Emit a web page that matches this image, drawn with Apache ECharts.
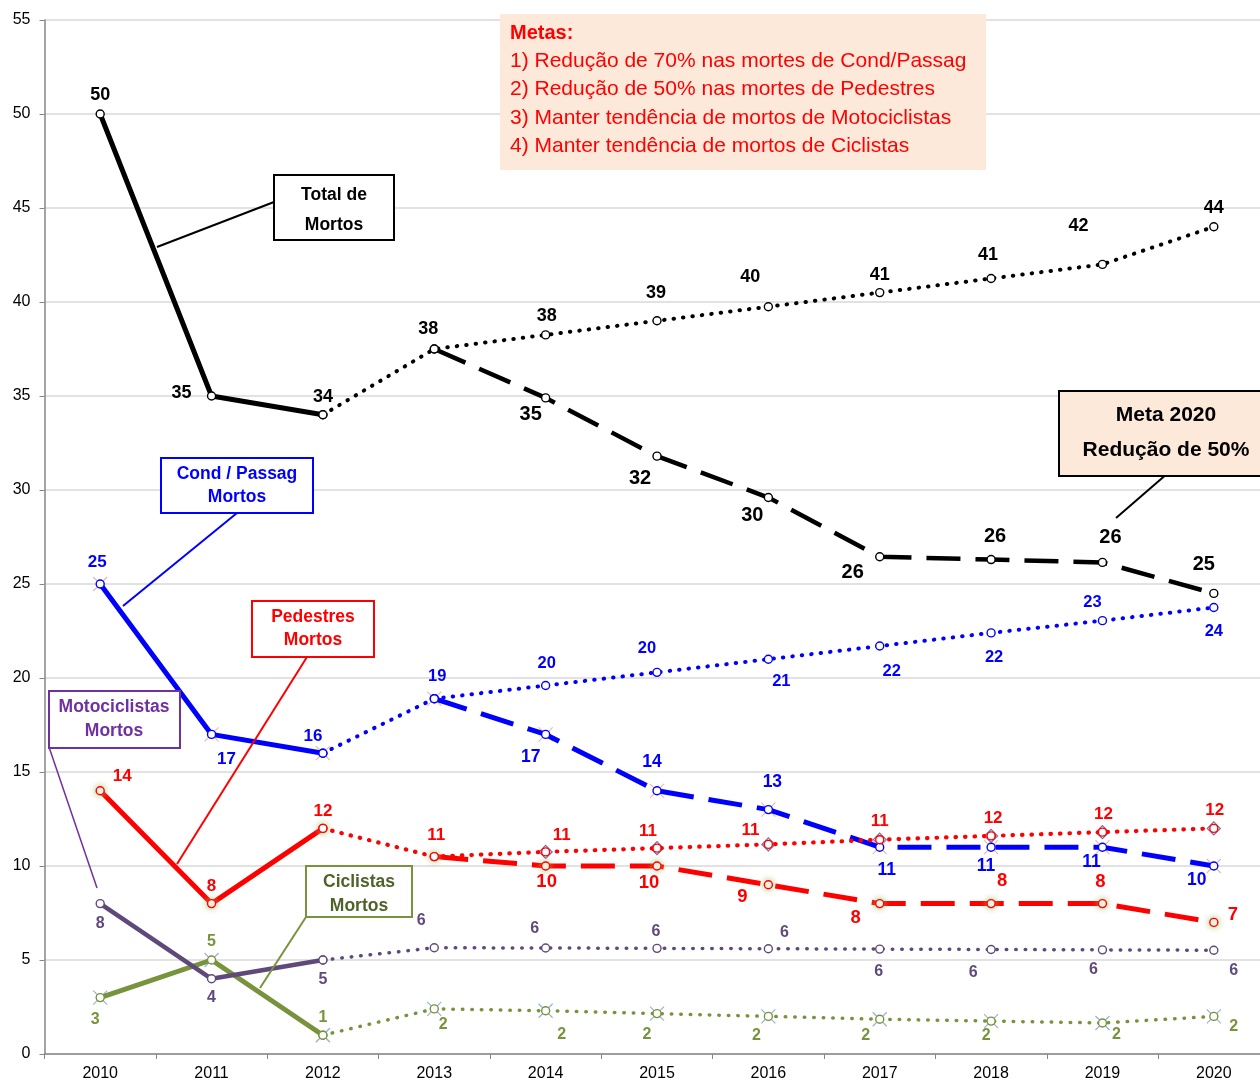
<!DOCTYPE html>
<html>
<head>
<meta charset="utf-8">
<script src="https://cdn.jsdelivr.net/npm/echarts@6/dist/echarts.min.js"></script>
<style>html,body{margin:0;padding:0;background:#fff;overflow:hidden;}#chart{width:1260px;height:1082px;}</style>
</head>
<body>
<div id="chart"></div>
<script>
// ---------- DATA ----------
const years = ['2010','2011','2012','2013','2014','2015','2016','2017','2018','2019','2020'];
const yTicks = [0, 55, 5]; // min, max, interval

const totalActual = [50, 35, 34, null, null, null, null, null, null, null, null];
const totalTrend  = [null, null, 34, 37.5, 38.25, 39, 39.75, 40.5, 41.25, 42, 44];
const totalMeta   = [null, null, null, 37.5, 34.9, 31.8, 29.6, 26.45, 26.3, 26.15, 24.5];

const condActual = [25, 17, 16, null, null, null, null, null, null, null, null];
const condTrend  = [null, null, 16, 18.9, 19.6, 20.3, 21, 21.7, 22.4, 23.05, 23.75];
const condMeta   = [null, null, null, 18.9, 17, 14, 13, 11, 11, 11, 10];

const pedActual = [14, 8, 12, null, null, null, null, null, null, null, null];
const pedTrend  = [null, null, 12, 10.5, 10.75, 10.95, 11.15, 11.4, 11.6, 11.8, 12];
const pedMeta   = [null, null, null, 10.5, 10, 10, 9, 8, 8, 8, 7];

const motoActual = [8, 4, 5, null, null, null, null, null, null, null, null];
const motoTrend  = [null, null, 5, 5.65, 5.64, 5.62, 5.6, 5.58, 5.56, 5.54, 5.52];

const cicActual = [3, 5, 1, null, null, null, null, null, null, null, null];
const cicTrend  = [null, null, 1, 2.4, 2.3, 2.15, 2, 1.85, 1.75, 1.65, 2];

// ---------- LABEL OFFSETS (layout only) ----------
const N = null;
const offTotalActual = [[0,-19],[-30,-3],[0,-18],N,N,N,N,N,N,N,N];
const offTotalTrend  = [N,N,N,[-6,-20],[1,-19],[-1,-28],[-18,-30],[0,-18],[-3,-23],[-24,-38],[0,-19]];
const offTotalMeta   = [N,N,N,N,[-15,17],[-17,22],[-16,18],[-27,16],[4,-23],[8,-25],[-10,-29]];
const offCondActual  = [[-3,-22],[15,25],[-10,-17],N,N,N,N,N,N,N,N];
const offCondTrend   = [N,N,N,[3,-22],[1,-22],[-10,-24],[13,22],[12,25],[3,25],[-10,-18],[0,24]];
const offCondMeta    = [N,N,N,N,[-15,23],[-5,-29],[4,-27],[7,23],[-5,19],[-11,15],[-17,14]];
const offPedActual   = [[22,-14],[0,-17],[0,-17],N,N,N,N,N,N,N,N];
const offPedTrend    = [N,N,N,[2,-21],[16,-17],[-9,-17],[-18,-14],[0,-18],[2,-18],[1,-18],[1,-18]];
const offPedMeta     = [N,N,N,N,[1,16],[-8,17],[-26,12],[-24,14],[11,-23],[-2,-22],[19,-7]];
const offMotoActual  = [[0,20],[0,19],[0,20],N,N,N,N,N,N,N,N];
const offMotoTrend   = [N,N,N,[-13,-27],[-11,-19],[-1,-17],[16,-16],[-1,22],[-18,23],[-9,20],[20,20]];
const offCicActual   = [[-5,22],[0,-18],[0,-18],N,N,N,N,N,N,N,N];
const offCicTrend    = [N,N,N,[9,16],[16,24],[-10,21],[-12,19],[-14,16],[-5,14],[14,12],[20,10]];

// ---------- STYLES ----------
const FONT = 'Liberation Sans, Arial, sans-serif';
const C_BLACK = '#000000', C_BLUE = '#0000FF', C_RED = '#FF0000', C_PURPLE = '#5F497A', C_GREEN = '#77933C';
const DASH = [34, 15];
const DOT = [0.5, 9];
const XPATH = 'path://M0,0L10,10M10,0L0,10';

function mk(name, vals, offs, color, lineWidth, lineType, labelColor, fontSize, opts) {
  opts = opts || {};
  const data = vals.map((v, i) => {
    if (v === null) return '-';
    const o = offs[i];
    return {
      value: v,
      label: o ? { show: true, position: 'inside', offset: o } : { show: false }
    };
  });
  return {
    name: name,
    type: 'line',
    data: data,
    z: opts.z || 2,
    symbol: 'circle',
    symbolSize: opts.symbolSize || 8,
    showAllSymbol: true,
    connectNulls: false,
    silent: true,
    animation: false,
    lineStyle: { color: color, width: lineWidth, type: lineType, cap: lineType === DOT ? 'round' : 'butt', join: 'round' },
    itemStyle: Object.assign({ color: '#ffffff', borderColor: color, borderWidth: 1.4 }, opts.itemStyle || {}),
    label: {
      color: labelColor,
      fontFamily: FONT,
      fontWeight: 'bold',
      fontSize: fontSize,
      formatter: p => String(Math.round(p.value))
    },
    emphasis: { disabled: true }
  };
}

// marker-only decoration series (symbols drawn beneath main markers)
function marks(vals, symbol, size, stroke, fill) {
  return {
    type: 'line', z: 1, silent: true, animation: false,
    data: vals.map(v => v === null ? '-' : v),
    symbol: symbol, symbolSize: size, showAllSymbol: true,
    lineStyle: { opacity: 0 },
    itemStyle: { color: fill, borderColor: stroke, borderWidth: 1.2 },
    label: { show: false }, emphasis: { disabled: true }
  };
}

const halo = { shadowColor: 'rgba(155,187,89,0.85)', shadowBlur: 6 };

const series = [
  marks(pedTrend.map((v, i) => i >= 4 ? v : null), 'diamond', 13, '#8064A2', '#ffffff'),
  marks(condActual, XPATH, 14, '#E6B9B8', 'none'),
  marks(condMeta, XPATH, 14, '#E6B9B8', 'none'),
  marks(cicActual, XPATH, 14, '#95B3D7', 'none'),
  marks(cicTrend, XPATH, 14, '#95B3D7', 'none'),
  mk('Ciclistas tendência', cicTrend, offCicTrend, C_GREEN, 3.5, DOT, C_GREEN, 16),
  mk('Ciclistas', cicActual, offCicActual, C_GREEN, 5, 'solid', C_GREEN, 16),
  mk('Motociclistas tendência', motoTrend, offMotoTrend, C_PURPLE, 3.5, DOT, '#604A7B', 16),
  mk('Motociclistas', motoActual, offMotoActual, C_PURPLE, 4.5, 'solid', '#604A7B', 16),
  mk('Pedestres meta', pedMeta, offPedMeta, C_RED, 5, DASH, C_RED, 18.5, { itemStyle: halo }),
  mk('Pedestres tendência', pedTrend, offPedTrend, C_RED, 4.2, DOT, C_RED, 17, { z: 3 }),
  mk('Pedestres', pedActual, offPedActual, C_RED, 5, 'solid', C_RED, 17, { itemStyle: halo }),
  mk('Cond/Passag meta', condMeta, offCondMeta, C_BLUE, 5, DASH, C_BLUE, 17.5),
  mk('Cond/Passag tendência', condTrend, offCondTrend, C_BLUE, 4, DOT, C_BLUE, 16.5),
  mk('Cond/Passag', condActual, offCondActual, C_BLUE, 5, 'solid', C_BLUE, 17),
  mk('Total meta', totalMeta, offTotalMeta, C_BLACK, 4.5, DASH, C_BLACK, 20),
  mk('Total tendência', totalTrend, offTotalTrend, C_BLACK, 4, DOT, C_BLACK, 18),
  mk('Total', totalActual, offTotalActual, C_BLACK, 5, 'solid', C_BLACK, 18)
];

// ---------- ANNOTATIONS ----------
function box(x1, y1, x2, y2, stroke, fill, lw) {
  return { type: 'rect', z: 100, silent: true,
    shape: { x: x1, y: y1, width: x2 - x1, height: y2 - y1 },
    style: { fill: fill, stroke: stroke, lineWidth: lw } };
}
function txt(x, y, s, font, color, align) {
  return { type: 'text', z: 101, silent: true, x: x, y: y,
    style: { text: s, font: font, fill: color, align: align || 'center', verticalAlign: 'middle' } };
}
function ln(x1, y1, x2, y2, color, w) {
  return { type: 'line', z: 99, silent: true,
    shape: { x1: x1, y1: y1, x2: x2, y2: y2 }, style: { stroke: color, lineWidth: w } };
}
const BF = 'bold 17.5px ' + FONT;
const graphic = [
  ln(274, 202, 157, 247, '#000', 2),
  box(274, 175, 394, 240, '#000', '#fff', 2),
  txt(334, 195, 'Total de', BF, '#000'),
  txt(334, 225, 'Mortos', BF, '#000'),

  ln(237, 513, 123, 606, C_BLUE, 2),
  box(161, 458, 313, 513, C_BLUE, '#fff', 2),
  txt(237, 474, 'Cond / Passag', BF, C_BLUE),
  txt(237, 497, 'Mortos', BF, C_BLUE),

  ln(307, 657, 177, 864, C_RED, 2),
  box(252, 601, 374, 657, C_RED, '#fff', 2),
  txt(313, 617, 'Pedestres', BF, C_RED),
  txt(313, 640, 'Mortos', BF, C_RED),

  ln(49, 747, 97, 888, '#7030A0', 1.5),
  box(49, 691, 180, 748, '#7030A0', '#fff', 2),
  txt(114, 707, 'Motociclistas', BF, '#7030A0'),
  txt(114, 731, 'Mortos', BF, '#7030A0'),

  ln(306, 917, 260, 988, C_GREEN, 2),
  box(306, 866, 412, 917, C_GREEN, '#fff', 2),
  txt(359, 882, 'Ciclistas', BF, '#4F6228'),
  txt(359, 906, 'Mortos', BF, '#4F6228'),

  box(500, 14, 986, 170, null, '#FDE9D9', 0),
  txt(510, 33, 'Metas:', 'bold 20px ' + FONT, C_RED, 'left'),
  txt(510, 61, '1) Redução de 70% nas mortes de Cond/Passag', '21px ' + FONT, C_RED, 'left'),
  txt(510, 89, '2) Redução de 50% nas mortes de Pedestres', '21px ' + FONT, C_RED, 'left'),
  txt(510, 118, '3) Manter tendência de mortos de Motociclistas', '21px ' + FONT, C_RED, 'left'),
  txt(510, 146, '4) Manter tendência de mortos de Ciclistas', '21px ' + FONT, C_RED, 'left'),

  ln(1168, 473, 1116, 518, '#000', 2),
  box(1059, 391, 1266, 476, '#000', '#FDE9D9', 2),
  txt(1166, 415, 'Meta 2020', 'bold 21px ' + FONT, '#000'),
  txt(1166, 450, 'Redução de 50%', 'bold 21px ' + FONT, '#000')
];

const chart = echarts.init(document.getElementById('chart'), null, { renderer: 'canvas' });
chart.setOption({
  animation: false,
  backgroundColor: '#ffffff',
  grid: { left: 44.5, width: 1225, top: 20, bottom: 28, containLabel: false, outerBoundsMode: 'none' },
  xAxis: {
    type: 'category', data: years, boundaryGap: true,
    axisLine: { lineStyle: { color: '#868686', width: 1.5 } },
    axisTick: { show: true, length: 5, lineStyle: { color: '#868686' } },
    axisLabel: { color: '#000', fontFamily: FONT, fontSize: 16, margin: 12 },
    splitLine: { show: false }
  },
  yAxis: {
    type: 'value', min: yTicks[0], max: yTicks[1], interval: yTicks[2],
    axisLine: { show: true, lineStyle: { color: '#868686', width: 1.5 } },
    axisTick: { show: true, length: 5, lineStyle: { color: '#868686' } },
    axisLabel: { color: '#000', fontFamily: FONT, fontSize: 16, margin: 14 },
    splitLine: { show: true, lineStyle: { color: '#D9D9D9', width: 1.5 } }
  },
  series: series,
  graphic: graphic
});
</script>
</body>
</html>
